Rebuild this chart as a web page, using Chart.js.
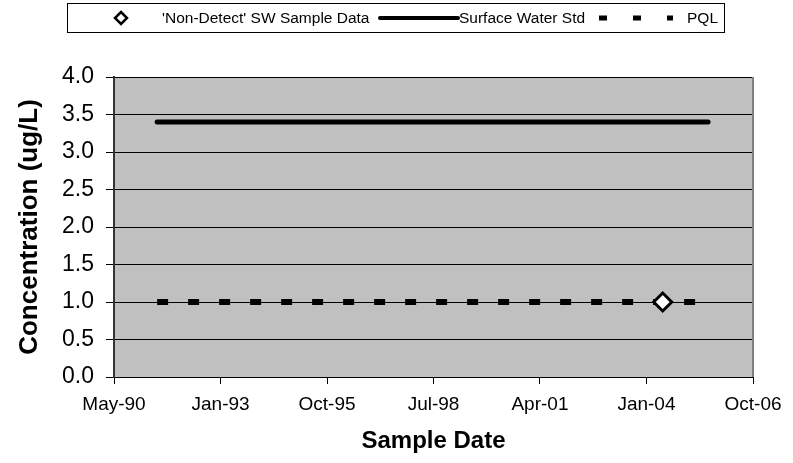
<!DOCTYPE html>
<html>
<head>
<meta charset="utf-8">
<script src="https://cdn.jsdelivr.net/npm/chart.js@4.4.1/dist/chart.umd.min.js"></script>
<style>
  body { margin: 0; background: #fff; font-family: "Liberation Sans", Arial, sans-serif; }
  #wrap { position: relative; width: 793px; height: 463px; }
  #chart { position: absolute; left: 0; top: 0; }
  #legend { position: absolute; left: 67px; top: 3px; width: 658px; height: 30px;
            border: 1px solid #000; box-sizing: border-box; background: #fff; }
  .lg { position: absolute; top: 0; height: 30px; line-height: 28px; font-size: 15.5px; color: #000; white-space: nowrap; }
  .sw { position: absolute; top: 0; }
</style>
</head>
<body>
<div id="wrap">
  <canvas id="chart" width="793" height="463"></canvas>
  <div id="legend"></div>
</div>
<script>
// data
const sampleDates = ["2004-06-15"];
const sampleValues = [1.0];
const stdDates = ["1991-06-15", "2005-08-15"];
const stdValues = [3.4, 3.4];
const pqlDates = ["1991-06-15", "2005-08-15"];
const pqlValues = [1.0, 1.0];
const xTickDates = ["1990-05-06", "1993-01-31", "1995-10-28", "1998-07-24", "2001-04-19", "2004-01-14", "2006-10-11"];
const xTickLabels = ["May-90", "Jan-93", "Oct-95", "Jul-98", "Apr-01", "Jan-04", "Oct-06"];
const seriesNames = ["'Non-Detect' SW Sample Data", "Surface Water Std", "PQL"];

const day = s => Date.parse(s + "T00:00:00Z") / 86400000;
const toPoints = (dates, vals) => dates.map((d, i) => ({ x: day(d), y: vals[i] }));

// legend (html, laid out like the Excel one)
const legend = document.getElementById("legend");
const L = 67;
legend.innerHTML =
  '<svg class="sw" style="left:' + (108 - L) + 'px" width="24" height="30"><polygon points="12,8 18,14 12,20 6,14" fill="#fff" stroke="#000" stroke-width="2.5"/></svg>' +
  '<span class="lg" style="left:' + (161 - L) + 'px">' + seriesNames[0] + '</span>' +
  '<svg class="sw" style="left:' + (377 - L) + 'px" width="82" height="30"><line x1="2" y1="14" x2="80" y2="14" stroke="#000" stroke-width="4" stroke-linecap="round"/></svg>' +
  '<span class="lg" style="left:' + (458 - L) + 'px">' + seriesNames[1] + '</span>' +
  '<svg class="sw" style="left:' + (598 - L) + 'px" width="80" height="30"><line x1="0" y1="14" x2="74" y2="14" stroke="#000" stroke-width="5" stroke-dasharray="8 26"/></svg>' +
  '<span class="lg" style="left:' + (686 - L) + 'px">' + seriesNames[2] + '</span>';

const plotBg = {
  id: "plotBg",
  beforeDraw(chart) {
    const { ctx, chartArea: a } = chart;
    ctx.save();
    ctx.fillStyle = "#c0c0c0";
    ctx.fillRect(a.left, a.top, a.right - a.left, a.bottom - a.top);
    ctx.restore();
  },
  beforeDatasetsDraw(chart) {
    const { ctx, chartArea: a } = chart;
    ctx.save();
    ctx.strokeStyle = "#808080";
    ctx.lineWidth = 2;
    ctx.beginPath();
    ctx.moveTo(a.right, a.top);
    ctx.lineTo(a.right, a.bottom);
    ctx.stroke();
    ctx.restore();
  }
};

new Chart(document.getElementById("chart"), {
  type: "scatter",
  data: {
    datasets: [
      {
        label: seriesNames[0],
        data: toPoints(sampleDates, sampleValues),
        showLine: false,
        pointStyle: "rectRot",
        pointRadius: 9,
        borderWidth: 3,
        borderColor: "#000",
        backgroundColor: "#fff",
      },
      {
        label: seriesNames[1],
        data: toPoints(stdDates, stdValues),
        showLine: true,
        borderColor: "#000",
        borderWidth: 5,
        borderCapStyle: "round",
        pointRadius: 0,
      },
      {
        label: seriesNames[2],
        data: toPoints(pqlDates, pqlValues),
        showLine: true,
        borderColor: "#000",
        borderWidth: 6,
        borderDash: [11, 20],
        borderCapStyle: "butt",
        pointRadius: 0,
      },
    ],
  },
  options: {
    responsive: false,
    animation: false,
    devicePixelRatio: 1,
    events: [],
    layout: { padding: { top: 77, right: 40, left: 0, bottom: 0 } },
    plugins: { legend: { display: false }, tooltip: { enabled: false } },
    scales: {
      x: {
        type: "linear",
        min: day(xTickDates[0]),
        max: day(xTickDates[xTickDates.length - 1]),
        afterBuildTicks: s => { s.ticks = xTickDates.map(d => ({ value: day(d) })); },
        afterFit: s => { s.height = 86; },
        ticks: {
          callback: (v, i) => xTickLabels[i],
          autoSkip: false,
          maxRotation: 0,
          color: "#000",
          font: { family: "Liberation Sans", size: 19 },
          padding: 9,
        },
        grid: { drawOnChartArea: false, drawTicks: true, tickLength: 7, color: "#000" },
        border: { color: "#000", width: 1 },
        title: {
          display: true,
          text: "Sample Date",
          color: "#000",
          font: { family: "Liberation Sans", size: 24, weight: "bold" },
          padding: { top: 0, bottom: 7 },
        },
      },
      y: {
        min: 0,
        max: 4,
        afterFit: s => { s.width = 114; },
        ticks: {
          stepSize: 0.5,
          callback: v => v.toFixed(1),
          color: "#000",
          font: { family: "Liberation Sans", size: 23 },
          padding: 12,
        },
        grid: { color: "#000", lineWidth: 1, tickLength: 8 },
        border: { color: "#333", width: 2 },
        title: {
          display: true,
          text: "Concentration (ug/L)",
          color: "#000",
          font: { family: "Liberation Sans", size: 26, weight: "bold" },
          padding: { top: 14, bottom: 0 },
        },
      },
    },
  },
  plugins: [plotBg],
});
</script>
</body>
</html>
